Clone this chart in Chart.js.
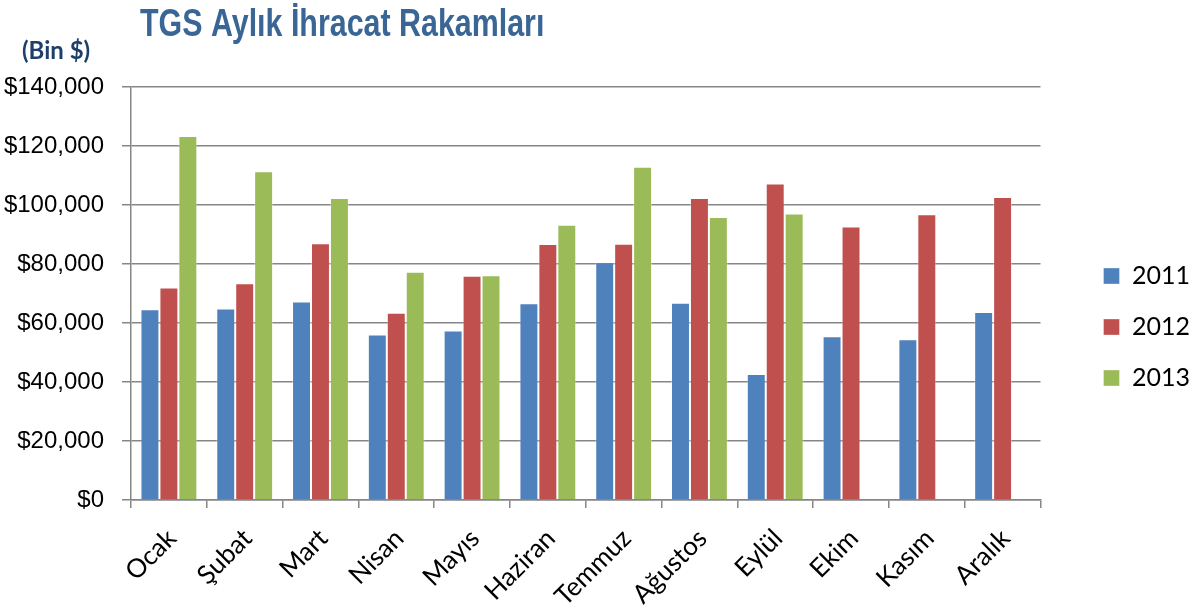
<!DOCTYPE html>
<html>
<head>
<meta charset="utf-8">
<script src="https://cdn.jsdelivr.net/npm/chart.js@4.4.0/dist/chart.umd.min.js"></script>
<style>
  html, body { margin: 0; padding: 0; background: #fff; }
  #wrap { width: 1198px; height: 613px; }
</style>
</head>
<body>
<div id="wrap"><canvas id="ihracat" width="1198" height="613"></canvas></div>
<script>
// values are in thousand dollars (Bin $)
const months = ["Ocak", "Şubat", "Mart", "Nisan", "Mayıs", "Haziran", "Temmuz", "Ağustos", "Eylül", "Ekim", "Kasım", "Aralık"];
const years = ["2011", "2012", "2013"];
const values2011 = [64700, 64900, 67300, 56100, 57500, 66700, 80600, 66900, 42700, 55500, 54500, 63700];
const values2012 = [72000, 73500, 87000, 63500, 76000, 86800, 86900, 102400, 107300, 92700, 96900, 102700];
const values2013 = [123400, 111400, 102400, 77400, 76200, 93300, 113000, 95900, 97100, null, null, null];
const yearColors = ["#4F81BD", "#C0504D", "#9BBB59"];

const TITLE = "TGS Aylık İhracat Rakamları";
const UNIT = "(Bin $)";
const GRID = "#868686";

/* ---------- title + unit label drawn on the canvas ---------- */
const headerText = {
  id: "headerText",
  afterDraw(chart) {
    const { ctx } = chart;
    ctx.save();
    ctx.textBaseline = "alphabetic";
    ctx.textAlign = "left";
    ctx.fillStyle = "#3A6696";
    ctx.font = 'bold 38px "Liberation Sans", Arial, sans-serif';
    // no narrow face installed, so squeeze the bold face horizontally
    ctx.translate(140, 36);
    ctx.scale(0.8, 1);
    ctx.fillText(TITLE, 0, 0);
    ctx.setTransform(1, 0, 0, 1, 0, 0);
    ctx.fillStyle = "#1F3F6B";
    ctx.font = "bold 24px Lato, sans-serif";
    ctx.fillText(UNIT, 22, 59);
    ctx.restore();
  }
};

/* ---------- move the legend block off the plot edge ---------- */
const legendNudge = {
  id: "legendNudge",
  afterLayout(chart, args, opts) {
    const lg = chart.legend;
    if (!lg) return;
    lg.left += opts.dx; lg.right += opts.dx;
    lg.top += opts.dy; lg.bottom += opts.dy;
  }
};

const series = [values2011, values2012, values2013];

new Chart(document.getElementById("ihracat"), {
  type: "bar",
  data: {
    labels: months,
    datasets: years.map((y, i) => ({
      label: y,
      data: series[i],
      backgroundColor: yearColors[i],
      borderColor: "rgba(255,255,255,0.35)",
      borderWidth: 1,
      categoryPercentage: 0.75,
      barPercentage: 1.0
    }))
  },
  options: {
    responsive: false,
    devicePixelRatio: 1,
    animation: false,
    layout: { padding: { top: 87, left: 4, right: 35, bottom: 0 } },
    plugins: {
      legend: {
        position: "right",
        labels: {
          boxWidth: 16,
          boxHeight: 16,
          padding: 26,
          color: "#000",
          font: { family: "Lato", size: 25 }
        }
      },
      tooltip: { enabled: false },
      legendNudge: { dx: 37, dy: -23 }
    },
    scales: {
      x: {
        afterFit: (s) => { s.height = 113; },
        grid: {
          display: true,
          drawOnChartArea: false,
          drawTicks: true,
          tickLength: 8,
          offset: true,
          color: GRID,
          lineWidth: 1.5
        },
        border: { color: GRID, width: 1.5 },
        ticks: {
          color: "#000",
          font: { family: "Lato", size: 26 },
          minRotation: 45,
          maxRotation: 45,
          autoSkip: false,
          padding: 15,
          labelOffset: 3
        }
      },
      y: {
        min: 0,
        max: 140000,
        afterFit: (s) => { s.width = 127; },
        ticks: {
          stepSize: 20000,
          color: "#000",
          padding: 18,
          font: { family: '"Liberation Sans", Arial', size: 24 },
          callback: (v) => "$" + v.toLocaleString("en-US")
        },
        grid: { color: GRID, lineWidth: 1.5, tickLength: 9 },
        border: { color: GRID, width: 1.5 }
      }
    }
  },
  plugins: [headerText, legendNudge]
});
</script>
</body>
</html>
